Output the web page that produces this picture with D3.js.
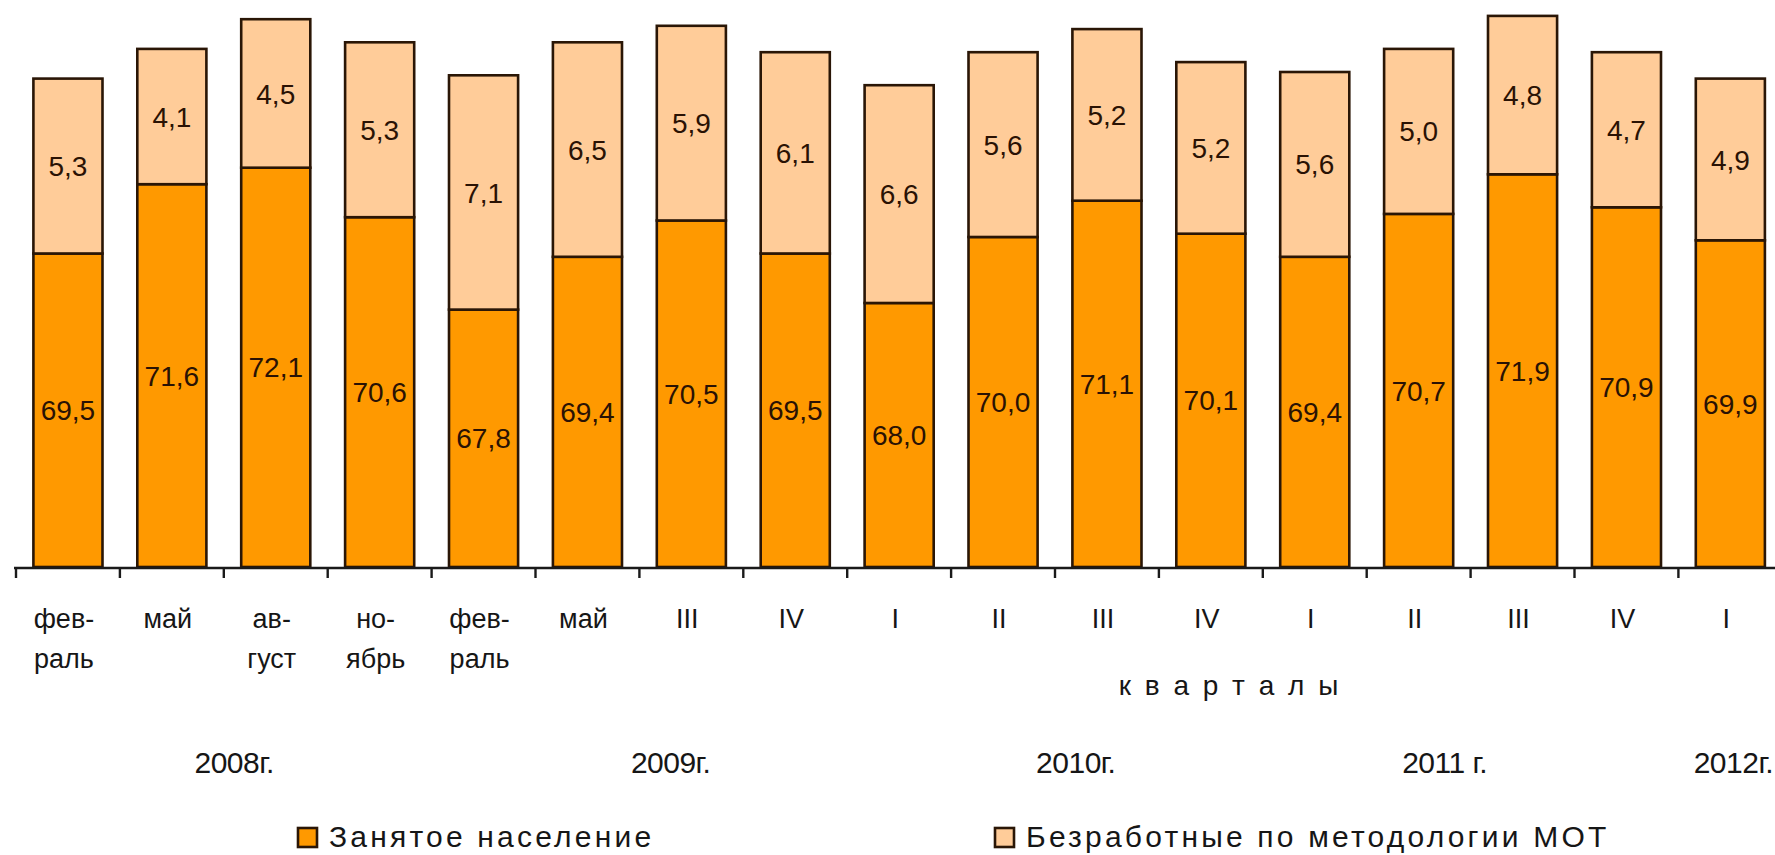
<!DOCTYPE html>
<html>
<head>
<meta charset="utf-8">
<script src="https://cdn.jsdelivr.net/npm/d3@7"></script>
<style>
  html, body { margin: 0; padding: 0; background: #ffffff; }
  svg { display: block; }
  text { font-family: "Liberation Sans", Arial, sans-serif; fill: #161616; }
</style>
</head>
<body>
<svg id="chart" width="1775" height="855"></svg>
<script>
// ---- data ----
const labelLine1 = ["фев-", "май", "ав-", "но-", "фев-", "май", "III", "IV", "I", "II", "III", "IV", "I", "II", "III", "IV", "I"];
const labelLine2 = ["раль", "", "густ", "ябрь", "раль", "", "", "", "", "", "", "", "", "", "", "", ""];
const employed   = [69.5, 71.6, 72.1, 70.6, 67.8, 69.4, 70.5, 69.5, 68.0, 70.0, 71.1, 70.1, 69.4, 70.7, 71.9, 70.9, 69.9];
const unemployed = [5.3, 4.1, 4.5, 5.3, 7.1, 6.5, 5.9, 6.1, 6.6, 5.6, 5.2, 5.2, 5.6, 5.0, 4.8, 4.7, 4.9];
const years      = ["2008г.", "2009г.", "2010г.", "2011 г.", "2012г."];
const yearAt     = [2.1, 6.3, 10.2, 13.75, 16.5];   // position of the year label, in category steps from the left
const axisTitle  = "к в а р т а л ы";
const seriesNames = ["Занятое население", "Безработные по методологии МОТ"];
const colors = ["#FF9900", "#FFCC99"];

// ---- layout ----
const svg = d3.select("#chart");
const baseY = 567;
const n = employed.length;

const x = d3.scaleBand()
  .domain(d3.range(n))
  .range([16, 16 + n * 103.9])
  .paddingInner(0.335)
  .paddingOuter(0.1675);

const y = d3.scaleLinear().domain([60, 77]).range([baseY, 6]);

const step = x.step();
const x0 = x.range()[0];
const fmt = v => d3.format(".1f")(v).replace(".", ",");

// bars
const g = svg.append("g");
const rows = d3.range(n).map(i => ({ i, e: employed[i], u: unemployed[i] }));

g.selectAll("rect.emp").data(rows).join("rect")
  .attr("class", "emp")
  .attr("x", d => x(d.i))
  .attr("width", x.bandwidth())
  .attr("y", d => y(d.e))
  .attr("height", d => y(60) - y(d.e))
  .attr("fill", colors[0])
  .attr("stroke", "#2a1606")
  .attr("stroke-width", 2.6);

g.selectAll("rect.unemp").data(rows).join("rect")
  .attr("class", "unemp")
  .attr("x", d => x(d.i))
  .attr("width", x.bandwidth())
  .attr("y", d => y(d.e + d.u))
  .attr("height", d => y(d.e) - y(d.e + d.u))
  .attr("fill", colors[1])
  .attr("stroke", "#2a1606")
  .attr("stroke-width", 2.6);

// value labels
g.selectAll("text.ve").data(rows).join("text")
  .attr("class", "ve")
  .attr("x", d => x(d.i) + x.bandwidth() / 2)
  .attr("y", d => (y(d.e) + y(60)) / 2)
  .attr("dy", "0.36em")
  .attr("text-anchor", "middle")
  .style("font-size", "28px")
  .style("fill", "#2a1204")
  .text(d => fmt(d.e));

g.selectAll("text.vu").data(rows).join("text")
  .attr("class", "vu")
  .attr("x", d => x(d.i) + x.bandwidth() / 2)
  .attr("y", d => (y(d.e) + y(d.e + d.u)) / 2)
  .attr("dy", "0.36em")
  .attr("text-anchor", "middle")
  .style("font-size", "28px")
  .style("fill", "#2a1204")
  .text(d => fmt(d.u));

// axis line and ticks at band boundaries
svg.append("line")
  .attr("x1", x0 - 2).attr("x2", 1775)
  .attr("y1", baseY + 1).attr("y2", baseY + 1)
  .attr("stroke", "#1a1a1a").attr("stroke-width", 2.6);

svg.selectAll("line.tick").data(d3.range(n + 1)).join("line")
  .attr("class", "tick")
  .attr("x1", i => x0 + i * step).attr("x2", i => x0 + i * step)
  .attr("y1", baseY + 1).attr("y2", baseY + 11)
  .attr("stroke", "#1a1a1a").attr("stroke-width", 2.4);

// category labels
svg.selectAll("text.l1").data(rows).join("text")
  .attr("class", "l1")
  .attr("x", d => x(d.i) + x.bandwidth() / 2 - 4)
  .attr("y", 628)
  .attr("text-anchor", "middle")
  .style("font-size", "27px")
  .text(d => labelLine1[d.i]);

svg.selectAll("text.l2").data(rows).join("text")
  .attr("class", "l2")
  .attr("x", d => x(d.i) + x.bandwidth() / 2 - 4)
  .attr("y", 668)
  .attr("text-anchor", "middle")
  .style("font-size", "27px")
  .text(d => labelLine2[d.i]);

// axis title
svg.append("text")
  .attr("x", 1230).attr("y", 695)
  .attr("text-anchor", "middle")
  .style("font-size", "28px")
  .style("letter-spacing", "3px")
  .text(axisTitle);

// year labels
svg.selectAll("text.yr").data(years).join("text")
  .attr("class", "yr")
  .attr("x", (d, i) => i === years.length - 1 ? 1773 : x0 + yearAt[i] * step)
  .attr("y", 773)
  .attr("text-anchor", (d, i) => i === years.length - 1 ? "end" : "middle")
  .style("font-size", "30px")
  .style("letter-spacing", "-0.5px")
  .text(d => d);

// legend
const legendX = [298, 995];
const lg = svg.selectAll("g.leg").data(seriesNames).join("g")
  .attr("class", "leg")
  .attr("transform", (d, i) => `translate(${legendX[i]},828)`);
lg.append("rect")
  .attr("width", 19).attr("height", 19)
  .attr("fill", (d, i) => colors[i])
  .attr("stroke", "#2a1606").attr("stroke-width", 2.6);
lg.append("text")
  .attr("x", 31).attr("y", 19)
  .style("font-size", "30px")
  .style("letter-spacing", "3.2px")
  .text(d => d);
</script>
</body>
</html>
